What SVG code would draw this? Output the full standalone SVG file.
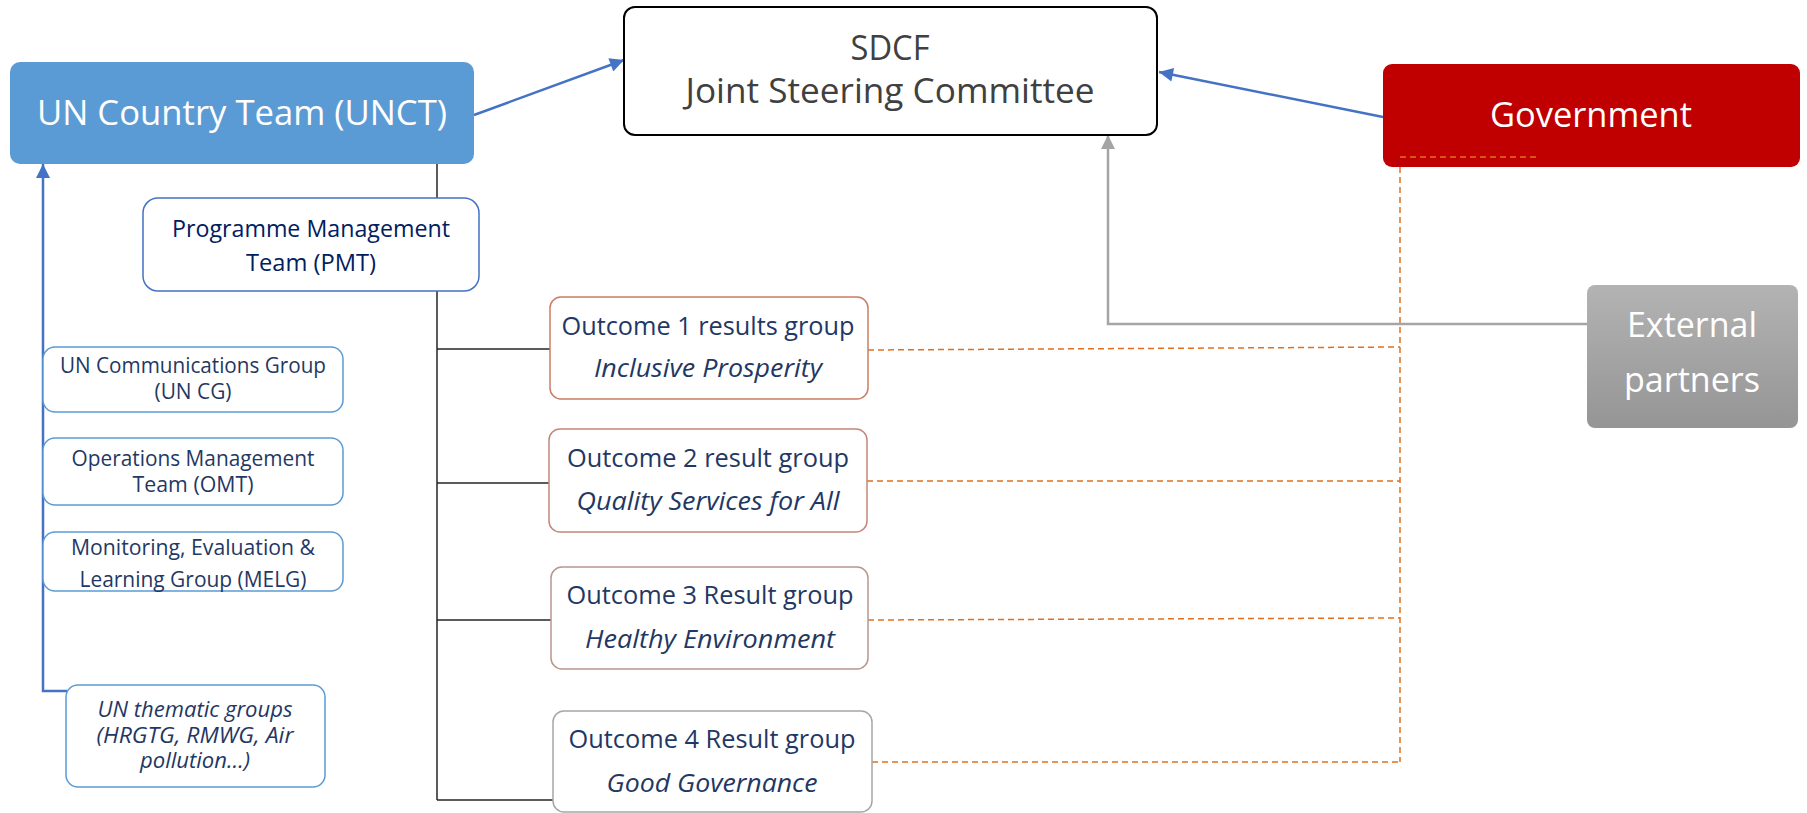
<svg xmlns="http://www.w3.org/2000/svg" width="1807" height="813" viewBox="0 0 1807 813">
<style>
text{font-family:"Open Sans","Noto Sans","DejaVu Sans",sans-serif;text-anchor:middle}
.big{font-size:35px}
.mid{font-size:26px;fill:#1F3864}
.sm{font-size:21px;fill:#1F3864}
.it{font-style:italic}
.blueBox{fill:#fff;stroke:#5B9BD5;stroke-width:1.5}
.tree{fill:none;stroke:#262626;stroke-width:1.5}
.dash{fill:none;stroke:#E0701F;stroke-width:1.5;stroke-dasharray:6 4}
</style>
<defs>
<marker id="arrB" viewBox="0 0 10 10" refX="10" refY="5" markerWidth="16" markerHeight="14" markerUnits="userSpaceOnUse" orient="auto"><path d="M0,0 L10,5 L0,10 z" fill="#4472C4"/></marker>
<marker id="arrG" viewBox="0 0 10 10" refX="10" refY="5" markerWidth="16" markerHeight="14" markerUnits="userSpaceOnUse" orient="auto"><path d="M0,0 L10,5 L0,10 z" fill="#A5A5A5"/></marker>
<linearGradient id="gExt" x1="0" y1="0" x2="0" y2="1"><stop offset="0" stop-color="#B3B3B3"/><stop offset="1" stop-color="#959595"/></linearGradient>
</defs>

<g id="connectors">
<path class="tree" d="M437,164 V800 M437,349 H550 M437,483 H549 M437,620 H551 M437,800 H553"/>
<path class="dash" d="M1400,157 H1539 M1400,157 V762 M868,350 L1400,347 M867,481 H1400 M868,620 L1400,618 M872,762 H1400"/>
<path d="M474,115 L624,60" fill="none" stroke="#4472C4" stroke-width="2.5" marker-end="url(#arrB)"/>
<path d="M1383,117 L1159,72" fill="none" stroke="#4472C4" stroke-width="2.5" marker-end="url(#arrB)"/>
<path d="M1587,324 H1108 V135" fill="none" stroke="#A5A5A5" stroke-width="2.5" marker-end="url(#arrG)"/>
<path d="M67,691 H43 V164" fill="none" stroke="#4472C4" stroke-width="2.5" marker-end="url(#arrB)"/>
<path d="M67,691 H127" fill="none" stroke="#DAE3F3" stroke-width="2"/>
</g>

<g id="unct">
<rect x="10" y="62" width="464" height="102" rx="10" fill="#5B9BD5"/>
<text class="big" x="242" y="125" fill="#fff" textLength="410" lengthAdjust="spacingAndGlyphs">UN Country Team (UNCT)</text>
</g>

<g id="sdcf">
<rect x="624" y="7" width="533" height="128" rx="11" fill="#fff" stroke="#000" stroke-width="2"/>
<text class="big" x="890" y="60" fill="#404040" textLength="79" lengthAdjust="spacingAndGlyphs">SDCF</text>
<text class="big" x="890" y="103" fill="#404040" textLength="409" lengthAdjust="spacingAndGlyphs">Joint Steering Committee</text>
</g>

<g id="government">
<rect x="1383" y="64" width="417" height="103" rx="9" fill="#C00000"/>
<path class="dash" d="M1400,157 H1539"/>
<text class="big" x="1591" y="127" fill="#fff" textLength="202" lengthAdjust="spacingAndGlyphs">Government</text>
</g>

<g id="external">
<rect x="1587" y="285" width="211" height="143" rx="8" fill="url(#gExt)"/>
<text class="big" x="1692" y="337" fill="#fff" textLength="130" lengthAdjust="spacingAndGlyphs">External</text>
<text class="big" x="1692" y="392" fill="#fff" textLength="136" lengthAdjust="spacingAndGlyphs">partners</text>
</g>

<g id="pmt">
<rect x="143" y="198" width="336" height="93" rx="15" fill="#fff" stroke="#4472C4" stroke-width="1.5"/>
<text class="mid" x="311" y="237" font-size="24" textLength="278" lengthAdjust="spacingAndGlyphs" style="font-size:24px;fill:#002060">Programme Management</text>
<text class="mid" x="311" y="271" textLength="130" lengthAdjust="spacingAndGlyphs" style="font-size:24px;fill:#002060">Team (PMT)</text>
</g>

<g id="outcome1">
<rect x="550" y="297" width="318" height="102" rx="11" fill="#fff" stroke="#CB7D63" stroke-width="1.5"/>
<text class="mid" x="708" y="335" textLength="293" lengthAdjust="spacingAndGlyphs">Outcome 1 results group</text>
<text class="mid it" x="708" y="377" textLength="228" lengthAdjust="spacingAndGlyphs">Inclusive Prosperity</text>
</g>

<g id="outcome2">
<rect x="549" y="429" width="318" height="103" rx="11" fill="#fff" stroke="#C4877A" stroke-width="1.5"/>
<text class="mid" x="708" y="467" textLength="282" lengthAdjust="spacingAndGlyphs">Outcome 2 result group</text>
<text class="mid it" x="708" y="510" textLength="263" lengthAdjust="spacingAndGlyphs">Quality Services for All</text>
</g>

<g id="outcome3">
<rect x="551" y="567" width="317" height="102" rx="11" fill="#fff" stroke="#B8968C" stroke-width="1.5"/>
<text class="mid" x="710" y="604" textLength="287" lengthAdjust="spacingAndGlyphs">Outcome 3 Result group</text>
<text class="mid it" x="710" y="648" textLength="250" lengthAdjust="spacingAndGlyphs">Healthy Environment</text>
</g>

<g id="outcome4">
<rect x="553" y="711" width="319" height="101" rx="11" fill="#fff" stroke="#A6A6A6" stroke-width="1.5"/>
<text class="mid" x="712" y="748" textLength="287" lengthAdjust="spacingAndGlyphs">Outcome 4 Result group</text>
<text class="mid it" x="712" y="792" textLength="211" lengthAdjust="spacingAndGlyphs">Good Governance</text>
</g>

<g id="uncg">
<rect class="blueBox" x="43" y="347" width="300" height="65" rx="12"/>
<text class="sm" x="193" y="373" textLength="266" lengthAdjust="spacingAndGlyphs">UN Communications Group</text>
<text class="sm" x="193" y="399" textLength="77" lengthAdjust="spacingAndGlyphs">(UN CG)</text>
</g>

<g id="omt">
<rect class="blueBox" x="43" y="438" width="300" height="67" rx="12"/>
<text class="sm" x="193" y="466" textLength="243" lengthAdjust="spacingAndGlyphs">Operations Management</text>
<text class="sm" x="193" y="492" textLength="121" lengthAdjust="spacingAndGlyphs">Team (OMT)</text>
</g>

<g id="melg">
<rect class="blueBox" x="43" y="532" width="300" height="59" rx="12"/>
<text class="sm" x="193" y="555" textLength="244" lengthAdjust="spacingAndGlyphs">Monitoring, Evaluation &amp;</text>
<text class="sm" x="193" y="587" textLength="227" lengthAdjust="spacingAndGlyphs">Learning Group (MELG)</text>
</g>

<g id="thematic">
<rect class="blueBox" x="66" y="685" width="259" height="102" rx="12"/>
<text class="sm it" x="195" y="717" textLength="195" lengthAdjust="spacingAndGlyphs">UN thematic groups</text>
<text class="sm it" x="195" y="743" textLength="197" lengthAdjust="spacingAndGlyphs">(HRGTG, RMWG, Air</text>
<text class="sm it" x="195" y="768" textLength="110" lengthAdjust="spacingAndGlyphs">pollution…)</text>
</g>
</svg>
